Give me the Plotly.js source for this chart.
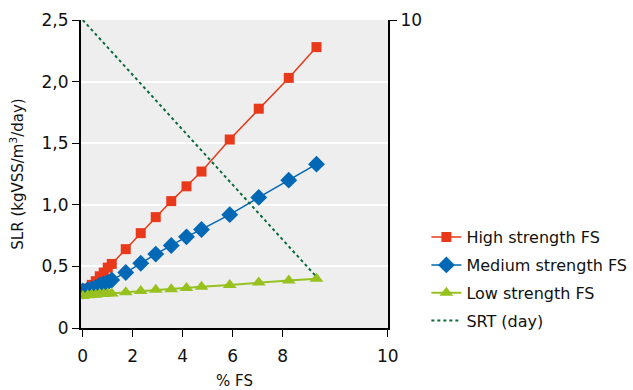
<!DOCTYPE html>
<html>
<head>
<meta charset="utf-8">
<script src="https://cdn.plot.ly/plotly-3.0.1.min.js"></script>
<style>html,body{margin:0;padding:0;background:#fff;}#chart{width:633px;height:390px;}</style>
</head>
<body>
<div id="chart"></div>
<script>
// % FS (x values)
const fsPct = [0, 0.2, 0.36, 0.52, 0.68, 0.84, 1.0, 1.16, 1.72, 2.32, 2.92, 3.54, 4.15, 4.75, 5.88, 7.04, 8.24, 9.35];
// SLR (kgVSS/m3/day)
const highFS = [0.28, 0.32, 0.35, 0.38, 0.42, 0.45, 0.49, 0.52, 0.64, 0.77, 0.90, 1.03, 1.15, 1.27, 1.53, 1.78, 2.03, 2.28];
const mediumFS = [0.30, 0.31, 0.32, 0.33, 0.35, 0.36, 0.37, 0.39, 0.45, 0.525, 0.60, 0.67, 0.74, 0.80, 0.92, 1.06, 1.20, 1.33];
const lowFS = [0.26, 0.265, 0.27, 0.27, 0.275, 0.275, 0.28, 0.28, 0.29, 0.30, 0.31, 0.315, 0.325, 0.335, 0.35, 0.37, 0.385, 0.40];
// SRT (day), secondary axis
const srtX = [0, 9.35];
const srtDays = [10, 1.66];
// tick labels
const xTickVals = [0, 2, 4, 6, 8, 12.2];
const xTickText = ['0', '2', '4', '6', '8', '10'];
const yTickVals = [0, 0.5, 1.0, 1.5, 2.0, 2.5];
const yTickText = ['0', '0,5', '1,0', '1,5', '2,0', '2,5'];

const font = 'DejaVu Sans, sans-serif';

const traces = [
  {x: fsPct, y: highFS, name: 'High strength FS', mode: 'lines+markers', legendgroup: 'a',
   line: {color: '#E8391A', width: 1.5}, marker: {symbol: 'square', size: 10, color: '#E8391A'}},
  {x: fsPct, y: mediumFS, name: 'Medium strength FS', mode: 'lines+markers', legendgroup: 'b',
   line: {color: '#0068B4', width: 1.5}, marker: {symbol: 'diamond', size: 13, color: '#0068B4'}},
  {x: fsPct, y: lowFS, name: 'Low strength FS', mode: 'lines+markers', legendgroup: 'c',
   line: {color: '#97C11F', width: 2}, marker: {symbol: 'triangle-up', size: 12, color: '#97C11F'}},
  {x: srtX, y: srtDays, name: 'SRT (day)', mode: 'lines', yaxis: 'y2', legendgroup: 'd',
   line: {color: '#0B6B3A', width: 2, dash: 'dot'}}
];

const layout = {
  width: 633, height: 390,
  margin: {l: 81, r: 245, t: 20, b: 62, autoexpand: false},
  paper_bgcolor: '#ffffff',
  plot_bgcolor: '#EEEEEE',
  font: {family: font, size: 15, color: '#111'},
  showlegend: true,
  legend: {x: 1.125, xanchor: 'left', y: 0.35, yanchor: 'top', traceorder: 'grouped', tracegroupgap: 4,
           font: {family: font, size: 16, color: '#111'}, bgcolor: 'rgba(0,0,0,0)'},
  xaxis: {range: [-0.07, 12.21], tickvals: xTickVals, ticktext: xTickText, automargin: false,
          showgrid: false, zeroline: false, showline: true, linecolor: '#000', linewidth: 2,
          ticks: 'outside', ticklen: 7, tickcolor: '#000', tickwidth: 1, ticklabelstandoff: 5,
          tickfont: {family: font, size: 17, color: '#111'},
          title: {text: '% FS', font: {family: font, size: 15, color: '#111'}, standoff: 12}},
  yaxis: {range: [0, 2.5], tickvals: yTickVals, ticktext: yTickText, automargin: false,
          showgrid: true, gridcolor: '#ffffff', gridwidth: 2, zeroline: false,
          showline: true, linecolor: '#000', linewidth: 2,
          ticks: 'outside', ticklen: 7, tickcolor: '#000', tickwidth: 1,
          tickfont: {family: font, size: 17, color: '#111'},
          title: {text: 'SLR (kgVSS/m<sup>3</sup>/day)', font: {family: font, size: 15, color: '#111'}, standoff: 14}},
  yaxis2: {range: [0, 10], overlaying: 'y', side: 'right', tickvals: [10], ticktext: ['10'], automargin: false,
           showgrid: false, zeroline: false, showline: true, linecolor: '#000', linewidth: 2,
           ticks: 'outside', ticklen: 7, tickcolor: '#000', tickwidth: 1,
           tickfont: {family: font, size: 17, color: '#111'}}
};

Plotly.newPlot('chart', traces, layout, {displayModeBar: false, staticPlot: true});
</script>
</body>
</html>
